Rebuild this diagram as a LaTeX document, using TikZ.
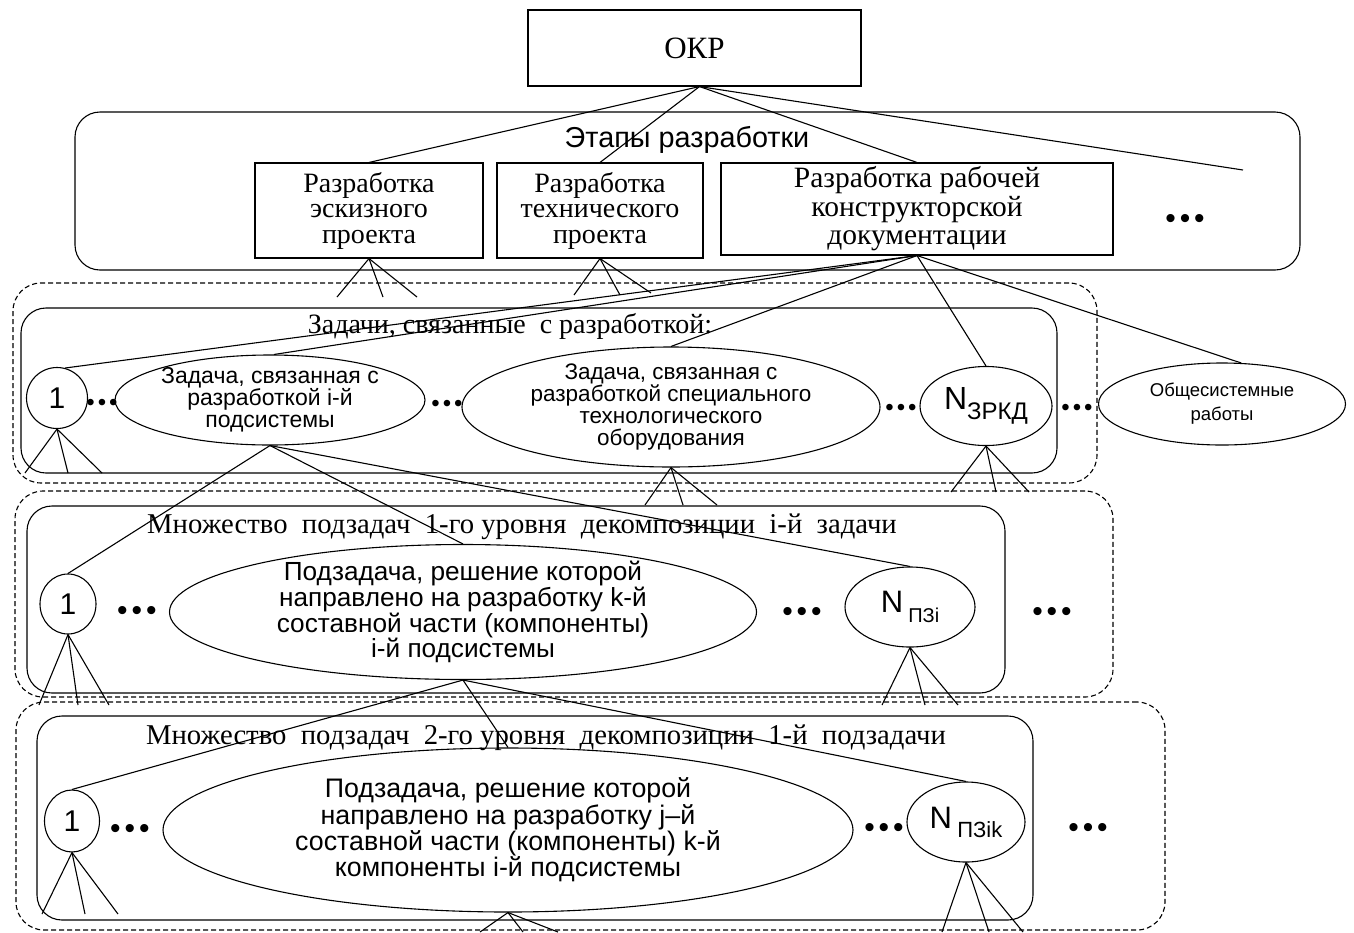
\documentclass[tikz,border=0pt]{standalone}
\usepackage{fontspec}
\setmainfont{Liberation Serif}
\setsansfont{Liberation Sans}
\usetikzlibrary{shapes.geometric}

\newcommand\fsz[2]{\fontsize{#1}{#2}\selectfont}
% three spaced bullets standing for omitted items
\newcommand\threedots[1]{•\kern#1•\kern#1•}

\tikzset{
  every picture/.style={line width=1.1pt},
  boxnode/.style={draw, rectangle, inner sep=0pt, align=center,
    font={\rmfamily\fsz{28}{25.5}}},
  ovalnode/.style={draw, ellipse, inner sep=0pt},
  lbl/.style={align=center, inner sep=0pt},
  stageframe/.style={draw, rectangle, rounded corners=25pt, inner sep=0pt},
  groupframe/.style={draw, rectangle, rounded corners=28pt, inner sep=0pt,
    dash pattern=on 5pt off 3pt},
  titletext/.style={inner sep=0pt, font={\rmfamily\fsz{28.7}{30}}},
  % ellipsis marks: the base line is shifted so that the bullets sit on the node's position
  dotsS/.style={inner sep=0pt, anchor=base, yshift=-10pt,
    font={\sffamily\fsz{24}{24}}},
  dotsL/.style={inner sep=0pt, anchor=base, yshift=-13pt,
    font={\sffamily\fsz{30}{30}}},
  conn/.style={line width=1.1pt},
}

\begin{document}
\begin{tikzpicture}[x=1pt, y=-1pt]
\useasboundingbox (0,0) rectangle (1354,932);
\fill[white] (0,0) rectangle (1354,932);

% ---------- top: the whole work and its stages ----------
\node[boxnode, minimum width=333pt, minimum height=76pt,
      font={\rmfamily\fsz{31}{31}}] (okp) at (694.5,48) {ОКР};

\node[stageframe, minimum width=1225pt, minimum height=158pt] (stages) at (687.5,191) {};
\node[inner sep=0pt, font={\sffamily\fsz{28.8}{28.8}}] (stagestitle) at (687,140) {Этапы разработки};

\node[boxnode, minimum width=228pt, minimum height=95pt] (ea) at (369,210.5)
  {Разработка\\эскизного\\проекта};
\node[boxnode, minimum width=206pt, minimum height=95pt] (eb) at (600,210.5)
  {Разработка\\технического\\проекта};
\node[boxnode, minimum width=392pt, minimum height=92pt,
      font={\rmfamily\fsz{29.5}{28.5}}] (ec) at (917,209)
  {Разработка рабочей\\конструкторской\\документации};
\node[dotsL] (dtop) at (1185,215) {\threedots{4pt}};

\coordinate (okpfree) at (1243,170);
\draw[conn] ([xshift=5pt]okp.south) -- (ea.north);
\draw[conn] ([xshift=5pt]okp.south) -- (eb.north);
\draw[conn] ([xshift=5pt]okp.south) -- (ec.north);
\draw[conn] ([xshift=5pt]okp.south) -- (okpfree);

% fans under the first two stages
\coordinate (fa1) at (337,297); \coordinate (fa2) at (383,297); \coordinate (fa3) at (417,297);
\coordinate (fb1) at (574,295); \coordinate (fb2) at (620,295); \coordinate (fb3) at (651,293);
\foreach \f in {fa1,fa2,fa3} \draw[conn] (ea.south) -- (\f);
\foreach \f in {fb1,fb2,fb3} \draw[conn] (eb.south) -- (\f);

% ---------- level 1: tasks ----------
\node[groupframe, minimum width=1084pt, minimum height=200pt] (grp1) at (555,383) {};
\node[stageframe, minimum width=1036pt, minimum height=165pt] (set1) at (539,390.5) {};

\node[ovalnode, minimum width=61pt, minimum height=61pt,
      label={[lbl, font={\sffamily\fsz{30}{30}}]center:1}] (c1a) at (57,398) {};
\node[dotsS] (d1a) at (102,400) {\threedots{3pt}};
\node[ovalnode, minimum width=310pt, minimum height=90pt,
      label={[lbl, font={\sffamily\fsz{23}{22}}]center:{Задача, связанная с\\разработкой i-й\\подсистемы}}]
      (ei) at (270,400) {};
\node[dotsS] (d1b) at (447,401) {\threedots{3pt}};
\node[ovalnode, minimum width=418pt, minimum height=120pt,
      label={[lbl, font={\sffamily\fsz{22.5}{22}}]center:{Задача, связанная с\\разработкой специального\\технологического\\оборудования}}]
      (es) at (671,407) {};
\node[dotsS] (d1c) at (901,405) {\threedots{3pt}};
\node[ovalnode, minimum width=132pt, minimum height=79pt,
      label={[lbl, font={\sffamily\fsz{32}{32}}]center:{N\raisebox{-10pt}{\fsz{24}{24}ЗРКД}}}]
      (nz) at (986,406) {};
\node[dotsS] (d1d) at (1077,405) {\threedots{3pt}};
\node[ovalnode, minimum width=247pt, minimum height=82pt,
      label={[lbl, font={\sffamily\fsz{18.5}{24}}]center:{Общесистемные\\работы}}]
      (og) at (1222,404) {};

\node[titletext, font={\rmfamily\fsz{28}{30}}] (title1) at (510,326) {Задачи, связанные\ \ с разработкой:};

\draw[conn] (ec.south) -- (c1a.75);
\draw[conn] (ec.south) -- (ei.85);
\draw[conn] (ec.south) -- (es.north);
\draw[conn] (ec.south) -- (nz.north);
\draw[conn] (ec.south) -- (og.65);

\coordinate (f1a1) at (25,473);  \coordinate (f1a2) at (68,473);  \coordinate (f1a3) at (102,473);
\coordinate (f1s1) at (645,505); \coordinate (f1s2) at (683,505); \coordinate (f1s3) at (717,505);
\coordinate (f1n1) at (951,492); \coordinate (f1n2) at (996,492); \coordinate (f1n3) at (1029,492);
\foreach \f in {f1a1,f1a2,f1a3} \draw[conn] (c1a.south) -- (\f);
\foreach \f in {f1s1,f1s2,f1s3} \draw[conn] (es.south) -- (\f);
\foreach \f in {f1n1,f1n2,f1n3} \draw[conn] (nz.south) -- (\f);

% ---------- level 2: subtasks of the i-th task ----------
\node[groupframe, minimum width=1098pt, minimum height=206pt] (grp2) at (564,594) {};
\node[stageframe, minimum width=978pt, minimum height=187pt] (set2) at (516,599.5) {};

\node[titletext] (title2) at (522,527)
  {Множество\ \ подзадач\ \ 1-го уровня\ \ декомпозиции\ \ i-й\ \ задачи};

\node[ovalnode, minimum width=56pt, minimum height=60pt,
      label={[lbl, font={\sffamily\fsz{30}{30}}]center:1}] (c1b) at (68,604) {};
\node[dotsL] (d2a) at (137,607) {\threedots{4pt}};
\node[ovalnode, minimum width=587pt, minimum height=135pt,
      label={[lbl, font={\sffamily\fsz{26.2}{22.5}}]center:{Подзадача, решение которой\\направлено на разработку k-й\\составной части (компоненты)\\i-й подсистемы}}]
      (e2) at (463,612) {};
\node[dotsL] (d2b) at (802,608) {\threedots{4pt}};
\node[ovalnode, minimum width=130pt, minimum height=80pt,
      label={[lbl, font={\sffamily\fsz{31}{31}}]center:{N\,\raisebox{-10pt}{\fsz{20}{20}ПЗi}}}]
      (np) at (910,607) {};
\node[dotsL] (d2c) at (1052,608) {\threedots{4pt}};

\draw[conn] (ei.south) -- (c1b.north);
\draw[conn] (ei.south) -- (e2.north);
\draw[conn] (ei.south) -- (np.north);

\coordinate (f2a1) at (39,705);  \coordinate (f2a2) at (78,705);  \coordinate (f2a3) at (109,705);
\coordinate (f2n1) at (882,705); \coordinate (f2n2) at (925,705); \coordinate (f2n3) at (958,705);
\foreach \f in {f2a1,f2a2,f2a3} \draw[conn] (c1b.south) -- (\f);
\foreach \f in {f2n1,f2n2,f2n3} \draw[conn] (np.south) -- (\f);

% ---------- level 3: subtasks of the first subtask ----------
\node[groupframe, minimum width=1149pt, minimum height=228pt] (grp3) at (590.5,816) {};
\node[stageframe, minimum width=996pt, minimum height=204pt] (set3) at (535,818) {};

\node[titletext] (title3) at (546,738)
  {Множество\ \ подзадач\ \ 2-го уровня\ \ декомпозиции\ \ 1-й\ \ подзадачи};

\node[ovalnode, minimum width=55pt, minimum height=62pt,
      label={[lbl, font={\sffamily\fsz{30}{30}}]center:1}] (c1c) at (72,821) {};
\node[dotsL] (d3a) at (130,825) {\threedots{4pt}};
\node[ovalnode, minimum width=690pt, minimum height=164pt,
      label={[lbl, font={\sffamily\fsz{26.8}{23.3}}]center:{Подзадача, решение которой\\направлено на разработку j–й\\составной части (компоненты) k-й\\компоненты i-й подсистемы}}]
      (e3) at (508,830) {};
\node[dotsL] (d3b) at (884,824) {\threedots{4pt}};
\node[ovalnode, minimum width=118pt, minimum height=80pt,
      label={[lbl, font={\sffamily\fsz{31}{31}}]center:{N\,\raisebox{-9pt}{\fsz{22}{22}ПЗik}}}]
      (npk) at (966,822) {};
\node[dotsL] (d3c) at (1088,824) {\threedots{4pt}};

\draw[conn] (e2.south) -- (c1c.north);
\draw[conn] (e2.south) -- (e3.north);
\draw[conn] (e2.south) -- (npk.north);

\coordinate (f3a1) at (42,914);  \coordinate (f3a2) at (85,914);  \coordinate (f3a3) at (118,914);
\coordinate (f3e1) at (480,932); \coordinate (f3e2) at (523,932); \coordinate (f3e3) at (558,932);
\coordinate (f3n1) at (942,932); \coordinate (f3n2) at (989,932); \coordinate (f3n3) at (1023,932);
\foreach \f in {f3a1,f3a2,f3a3} \draw[conn] (c1c.south) -- (\f);
\foreach \f in {f3e1,f3e2,f3e3} \draw[conn] (e3.south) -- (\f);
\foreach \f in {f3n1,f3n2,f3n3} \draw[conn] (npk.south) -- (\f);
\end{tikzpicture}
\end{document}
